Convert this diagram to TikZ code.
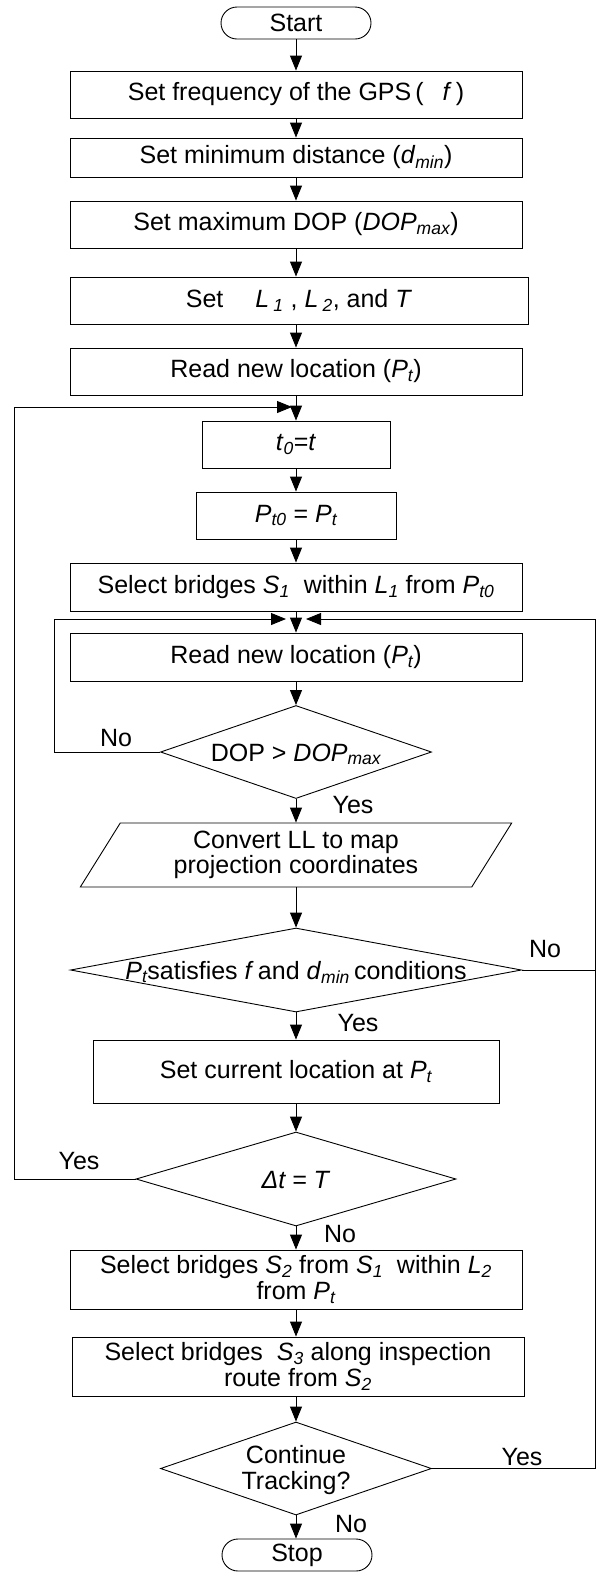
\documentclass[tikz,border=0pt]{standalone}
\usepackage{fontspec}
\setmainfont{Liberation Sans}
\usetikzlibrary{shapes.geometric,arrows.meta}
% italic subscript used for the variable indices
\newcommand{\isub}[1]{\textsubscript{\itshape #1}}
% zero-size label so a diamond keeps exactly its minimum size
\newcommand{\dlabel}[2][-0.36em]{\smash{\makebox[0pt]{\raisebox{#1}{#2}}}}

\begin{document}
\begin{tikzpicture}[x=1pt,y=-1pt,
  every node/.style={font=\fontsize{25}{25.5}\selectfont},
  line/.style={line width=0.9pt},
  arr/.style={line, -{Triangle[length=15pt,width=12pt]}},
  box/.style={draw, line width=0.9pt, rectangle, inner sep=0pt, align=center},
  term/.style={box, rounded corners=16pt},
  dec/.style={draw, line width=0.9pt, diamond, inner sep=0pt},
  io/.style={draw, line width=0.9pt, trapezium, trapezium left angle=60,
    trapezium right angle=120, trapezium stretches=true, inner sep=0pt, align=center},
  lbl/.style={inner sep=0pt}
]
\useasboundingbox (0,0) rectangle (597,1575);

% process steps
\node[term, minimum width=150pt, minimum height=32pt] (start) at (296,23) {Start};
\node[box, minimum width=452pt, minimum height=47pt] (b1) at (296,94.5)
  {Set frequency of the GPS\,(\hspace{0.75em}\textit{f}\,)};
\node[box, minimum width=452pt, minimum height=39pt] (b2) at (296,157.5)
  {Set minimum distance (\textit{d}\isub{min})};
\node[box, minimum width=452pt, minimum height=47pt] (b3) at (296,224.5)
  {Set maximum DOP (\textit{DOP}\isub{max})};
\node[box, minimum width=458pt, minimum height=47pt] (b4) at (299,300.5)
  {Set\quad\ \textit{L}\,\isub{1} , \textit{L}\,\isub{2}, and \textit{T}};
\node[box, minimum width=452pt, minimum height=47pt] (b5) at (296,371.5)
  {Read new location (\textit{P}\isub{t})};
\coordinate (j1) at (296,407);
\node[box, minimum width=188pt, minimum height=47pt] (t0) at (296,444.5)
  {\textit{t}\isub{0}=\textit{t}};
\node[box, minimum width=200pt, minimum height=47pt] (pt0) at (296,515.5)
  {\textit{P}\isub{t0} = \textit{P}\isub{t}};
\node[box, minimum width=452pt, minimum height=48pt] (s1) at (296,587)
  {Select bridges \textit{S}\isub{1}\ \ within \textit{L}\isub{1} from \textit{P}\isub{t0}};
\coordinate (j2) at (296,619);
\node[box, minimum width=452pt, minimum height=48pt] (rd) at (296,657)
  {Read new location (\textit{P}\isub{t})};
\node[dec, minimum width=271pt, minimum height=93pt] (d1) at (296,752)
  {\dlabel{DOP > \textit{DOP}\isub{max}}};
\node[io, minimum width=432pt, minimum height=64pt] (cv) at (296,855)
  {Convert LL to map\\projection coordinates};
\node[dec, minimum width=451pt, minimum height=84pt] (d2) at (296,970)
  {\dlabel{\textit{P}\isub{t}satisfies \textit{f}\,and \textit{d}\isub{min}\,conditions}};
\node[box, minimum width=406pt, minimum height=63pt] (cur) at (296,1071.5)
  {Set current location at \textit{P}\isub{t}};
\node[dec, minimum width=320pt, minimum height=94pt] (d3) at (296,1179)
  {\dlabel{\textit{Δt = T}}};
\node[box, minimum width=452pt, minimum height=59pt] (s2) at (296,1279.5)
  {Select bridges \textit{S}\isub{2} from \textit{S}\isub{1}\ \ within \textit{L}\isub{2}\\from \textit{P}\isub{t}};
\node[box, minimum width=452pt, minimum height=59pt] (s3) at (298,1366.5)
  {Select bridges\ \ \textit{S}\isub{3} along inspection\\route from \textit{S}\isub{2}};
\node[dec, minimum width=271pt, minimum height=93pt] (d4) at (296,1468.5)
  {\dlabel[-0.36em]{\begin{tabular}{@{}c@{}}Continue\\Tracking?\end{tabular}}};
\node[term, minimum width=150pt, minimum height=32pt] (stop) at (297,1555) {Stop};

% side rails of the loops
\coordinate (lx) at (14,0);
\coordinate (mx) at (54,0);
\coordinate (rx) at (595.5,0);

% main flow
\draw[arr] (start) -- (b1);
\draw[arr] (b1) -- (b2);
\draw[arr] (b2) -- (b3);
\draw[arr] (b3.south) -- (b3.south |- b4.north);
\draw[arr] (b5.north |- b4.south) -- (b5.north);
\draw[arr] (b5) -- (t0);
\draw[arr] (t0) -- (pt0);
\draw[arr] (pt0) -- (s1);
\draw[arr] (s1) -- (rd);
\draw[arr] (rd) -- (d1);
\draw[arr] (d1) -- (cv);
\draw[arr] (cv.south) -- (cv.south |- d2.north);
\draw[arr] (d2) -- (cur);
\draw[arr] (cur) -- (d3);
\draw[arr] (d3) -- (s2);
\draw[arr] (s2.south) -- (s2.south |- s3.north);
\draw[arr] (s2.south |- s3.south) -- (d4);
\draw[arr] (d4.south) -- (d4.south |- stop.north);

% loops back
\draw[arr, shorten >=4pt] (d3.west) -- (d3.west -| lx) |- (j1);
\draw[arr, shorten >=10pt] (d1.west) -- (d1.west -| mx) |- (j2);
\draw[arr, shorten >=10pt] (d2.east) -- (d2.east -| rx) |- (j2);
\draw[line] (d4.east) -| (d2.east -| rx);

% branch labels
\node[lbl] (l1) at (116,738) {No};
\node[lbl] (l2) at (353,805) {Yes};
\node[lbl] (l3) at (545,949) {No};
\node[lbl] (l4) at (358,1023) {Yes};
\node[lbl] (l5) at (79,1161) {Yes};
\node[lbl] (l6) at (340,1234) {No};
\node[lbl] (l7) at (522,1457) {Yes};
\node[lbl] (l8) at (351,1524) {No};
\end{tikzpicture}
\end{document}
